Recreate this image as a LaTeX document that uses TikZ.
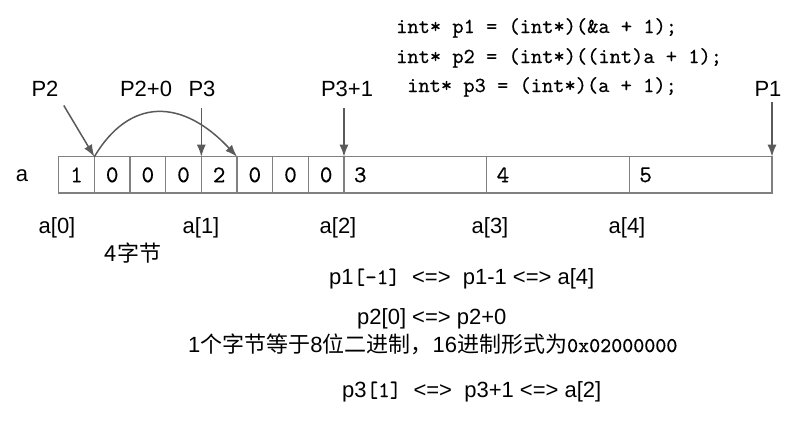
\documentclass[tikz,border=0pt]{standalone}
\usepackage{fontspec}
\setmainfont{Liberation Sans}
\setmonofont{lmmono10-regular.otf}[FakeBold=0.35]
\newfontfamily\cjk{Noto Sans CJK SC}
\usetikzlibrary{positioning, arrows.meta}

\definecolor{linegray}{RGB}{128,128,128}
\definecolor{ptrgray}{RGB}{90,90,90}

\newcommand{\lblfont}{\fontsize{22}{26}\selectfont}
\newcommand{\codefont}{\ttfamily\fontsize{21.4}{29.5}\selectfont}
\newcommand{\cellfont}{\ttfamily\fontsize{24}{28}\selectfont}

\begin{document}
\begin{tikzpicture}[x=1pt, y=-1pt, >={Latex[length=12pt,width=9pt]},
  cell/.style={draw=linegray, line width=1.3pt, minimum width=35.66pt, minimum height=36.3pt, inner sep=0pt, outer sep=0pt, font=\cellfont},
  intcell/.style={cell, minimum width=142.67pt, text width=122.67pt, inner xsep=10pt, align=left},
  lbl/.style={font=\lblfont, inner sep=0pt, anchor=base},
  code/.style={font=\codefont, inner sep=0pt, anchor=base west},
  ptr/.style={->, draw=ptrgray, line width=1.5pt}]

  \useasboundingbox (0,0) rectangle (804,421);

  % Code oben rechts
  \node[code] (code1) at (396,33) {int* p1 = (int*)(\&a + 1);};
  \node[code] (code2) at (396,63) {int* p2 = (int*)((int)a + 1);};
  \node[code] (code3) at (407,92) {int* p3 = (int*)(a + 1);};

  % Speicher: die 8 Bytes von a[0] und a[1]
  \node[lbl] (la) at (22,181.7) {a};
  \node[cell] (b1) at (76.53,174.85) {1};
  \foreach \v [count=\i from 2, remember=\i as \j (initially 1)] in {0,0,0,2,0,0,0}
    \node[cell, right=0pt of b\j] (b\i) {\v};

  % a[2] bis a[4] als ganze ints
  \node[intcell, right=0pt of b8] (i3) {3};
  \node[intcell, right=0pt of i3] (i4) {4};
  \node[intcell, right=0pt of i4] (i5) {5};

  % Zeiger-Beschriftungen
  \node[lbl] (lp2) at (45,96.7) {P2};
  \node[lbl] (lp20) at (146,96.7) {P2+0};
  \node[lbl] (lp3) at (202,96.7) {P3};
  \node[lbl] (lp31) at (347,96.7) {P3+1};
  \node[lbl] (lp1) at (768,96.7) {P1};

  % Indizes unter dem Array
  \foreach \k/\x in {0/57, 1/201, 2/338, 3/490, 4/627}
    \node[lbl] (idx\k) at (\x,233) {a[\k]};
  \node[lbl, font=\lblfont\cjk] (nbytes) at (133,261) {4字节};

  % Zeiger
  \draw[ptr, shorten <=10pt] (lp2.south east) -- (b1.north east);
  \draw[ptr, shorten <=11pt] (lp3.south -| b5.north west) -- (b5.north west);
  \draw[ptr, shorten <=11pt] (lp31.south -| i3.north west) -- (i3.north west);
  \draw[ptr, shorten <=5pt] (lp1.south -| i5.north east) -- (i5.north east);
  \draw[ptr] (b1.north east) .. controls +(35,-59) and +(-55,-59) .. (b6.north west);

  % Erklaerungen unten
  \node[lbl, anchor=base west] (eq1) at (329,284) {p1{\ttfamily[-1]}\ \ <=>\ \ p1-1 <=> a[4]};
  \node[lbl, anchor=base west] (eq2) at (357,324) {p2[0] <=> p2+0};
  \node[lbl, anchor=base west] (note) at (188,352) {1{\cjk 个字节等于}8{\cjk 位二进制，}16{\cjk 进制形式为}{\ttfamily\fontsize{21}{24}\selectfont 0x02000000}};
  \node[lbl, anchor=base west] (eq3) at (342,397) {p3{\ttfamily[1]}\ \ <=>\ \ p3+1 <=> a[2]};
\end{tikzpicture}
\end{document}
